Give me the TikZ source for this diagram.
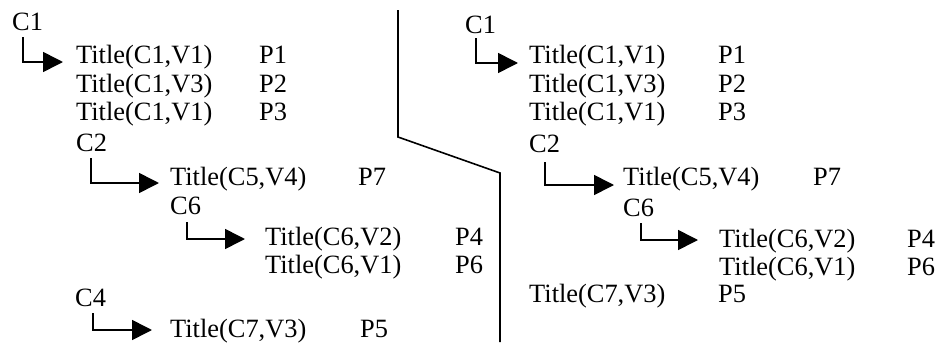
\documentclass[tikz,border=0pt]{standalone}
\usepackage{fontspec}
\setmainfont{Liberation Serif}
\usetikzlibrary{arrows.meta}
\begin{document}
\begin{tikzpicture}[x=1pt,y=-1pt,
  lbl/.style={anchor=base west,inner sep=0pt,font=\fontsize{26.4}{30}\selectfont},
  conn/.style={line width=1.6pt,-{Triangle[length=20pt,width=20pt]}},
  divider/.style={line width=1.6pt}]
\useasboundingbox (0,0) rectangle (938,351);

% ---- left listing ----
\node[lbl] (lc1) at (12,30) {C1};
\node[lbl] (lt1) at (76,63) {Title(C1,V1)};  \node[lbl] (lp1) at (259,63) {P1};
\node[lbl] (lt2) at (76,92) {Title(C1,V3)};  \node[lbl] (lp2) at (259,92) {P2};
\node[lbl] (lt3) at (76,120) {Title(C1,V1)}; \node[lbl] (lp3) at (259,120) {P3};
\node[lbl] (lc2) at (76,151) {C2};
\node[lbl] (lt4) at (170,185) {Title(C5,V4)}; \node[lbl] (lp7) at (358,185) {P7};
\node[lbl] (lc6) at (170,214) {C6};
\node[lbl] (lt5) at (265,245) {Title(C6,V2)}; \node[lbl] (lp4) at (455,245) {P4};
\node[lbl] (lt6) at (265,273) {Title(C6,V1)}; \node[lbl] (lp6) at (455,273) {P6};
\node[lbl] (lc4) at (75,306) {C4};
\node[lbl] (lt7) at (170,337) {Title(C7,V3)}; \node[lbl] (lp5) at (360,337) {P5};

\coordinate (la1s) at (22.7,37);  \coordinate (la1e) at (63,62);
\coordinate (la2s) at (90.7,158); \coordinate (la2e) at (159,183);
\coordinate (la3s) at (186.7,222);\coordinate (la3e) at (245,239);
\coordinate (la4s) at (92.7,313); \coordinate (la4e) at (152,330);
\draw[conn] (la1s) |- (la1e);
\draw[conn] (la2s) |- (la2e);
\draw[conn] (la3s) |- (la3e);
\draw[conn] (la4s) |- (la4e);

% ---- separating line ----
\coordinate (d1) at (398,10);
\coordinate (d2) at (398,137);
\coordinate (d3) at (500,173);
\coordinate (d4) at (500,342);
\draw[divider] (d1) -- (d2) -- (d3) -- (d4);

% ---- right listing ----
\node[lbl] (rc1) at (465,33) {C1};
\node[lbl] (rt1) at (529,63) {Title(C1,V1)};  \node[lbl] (rp1) at (718,63) {P1};
\node[lbl] (rt2) at (529,92) {Title(C1,V3)};  \node[lbl] (rp2) at (718,92) {P2};
\node[lbl] (rt3) at (529,120) {Title(C1,V1)}; \node[lbl] (rp3) at (718,120) {P3};
\node[lbl] (rc2) at (529,152) {C2};
\node[lbl] (rt4) at (623,185) {Title(C5,V4)}; \node[lbl] (rp7) at (813,185) {P7};
\node[lbl] (rc6) at (623,216) {C6};
\node[lbl] (rt5) at (719,247) {Title(C6,V2)}; \node[lbl] (rp4) at (907,247) {P4};
\node[lbl] (rt6) at (719,275) {Title(C6,V1)}; \node[lbl] (rp6) at (907,275) {P6};
\node[lbl] (rt7) at (529,302) {Title(C7,V3)}; \node[lbl] (rp5) at (718,302) {P5};

\coordinate (ra1s) at (476,38);  \coordinate (ra1e) at (518,63);
\coordinate (ra2s) at (545,162); \coordinate (ra2e) at (614,185);
\coordinate (ra3s) at (641,223); \coordinate (ra3e) at (698,240);
\draw[conn] (ra1s) |- (ra1e);
\draw[conn] (ra2s) |- (ra2e);
\draw[conn] (ra3s) |- (ra3e);
\end{tikzpicture}
\end{document}
